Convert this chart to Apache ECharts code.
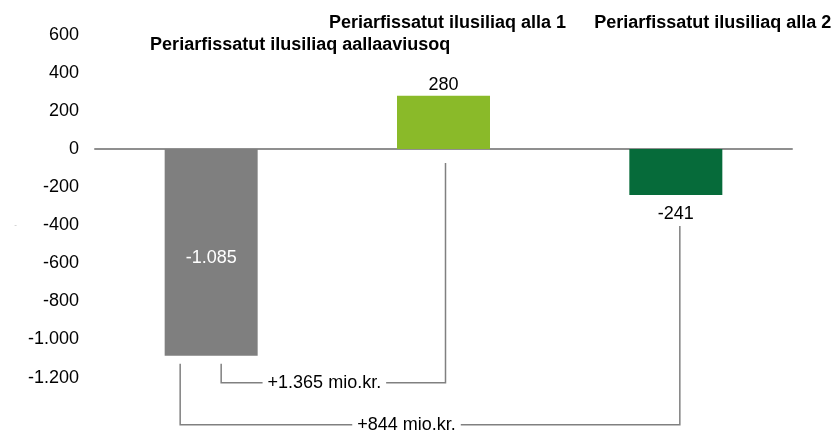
<!DOCTYPE html>
<html>
<head>
<meta charset="utf-8">
<script src="https://cdn.jsdelivr.net/npm/echarts@6/dist/echarts.min.js"></script>
<style>
  html, body { margin: 0; padding: 0; background: #fff; }
  #main { width: 835px; height: 436px; }
</style>
</head>
<body>
<div id="main"></div>
<script>
// kategorier og værdier (mio.kr.)
var categories = ['Periarfissatut ilusiliaq aallaaviusoq', 'Periarfissatut ilusiliaq alla 1', 'Periarfissatut ilusiliaq alla 2'];
var values = [-1085, 280, -241];
var barColors = ['#7f7f7f', '#8aba29', '#066b3a'];
var yTicks = [600, 400, 200, 0, -200, -400, -600, -800, -1000, -1200];

// forskel-klammer: fra kategori -> til kategori
var bracketFrom = [0, 0];
var bracketTo = [1, 2];
var bracketLabels = ['+1.365 mio.kr.', '+844 mio.kr.'];

var FONT = "'Liberation Sans', Arial, sans-serif";

// tusindtalsseparator med punktum
function fmt(v) {
    var s = Math.abs(v).toString().replace(/\B(?=(\d{3})+(?!\d))/g, '.');
    return (v < 0 ? '-' : '') + s;
}

var myChart = echarts.init(document.getElementById('main'));

// label pr. søjle
var barLabels = [
    { position: 'inside', color: '#fff', offset: [0, 6] },
    { position: 'top', distance: 2, color: '#000' },
    { position: 'bottom', distance: 10, color: '#000' }
];

// kategori-tekster øverst
var topLabelStyle = [
    { padding: [0, 0, 0, 178], verticalAlign: 'top' },
    { padding: [0, 0, 0, 8], verticalAlign: 'bottom' },
    { padding: [0, 0, 0, 74], verticalAlign: 'bottom' }
];

// klamme-layout (pixels)
var bracketStyle = [
    { leftDx: 10, rightDx: 2, leftGap: 8, rightGap: 14, drop: 27, textAt: 0.46 },
    { leftDx: -31, rightDx: 4, leftGap: 8, rightGap: 31, drop: 69, textAt: 0.453 }
];

function startY(api, cat, gap) {
    var v = values[cat];
    return api.coord([cat, Math.min(v, 0)])[1] + gap;
}

var option = {
    animation: false,
    textStyle: { fontFamily: FONT },
    grid: { left: 95, right: 43, top: 34.7, bottom: 20.3, outerBoundsMode: 'none' },
    xAxis: [
        {
            type: 'category',
            data: categories,
            position: 'bottom',
            axisLine: { onZero: true, lineStyle: { color: '#8f8f8f', width: 2 } },
            axisTick: { show: false },
            axisLabel: { show: false },
            splitLine: { show: false }
        },
        {
            type: 'category',
            position: 'top',
            data: categories.map(function (c, i) {
                return { value: c, textStyle: topLabelStyle[i] };
            }),
            axisLine: { show: false },
            axisTick: { show: false },
            splitLine: { show: false },
            axisLabel: {
                interval: 0,
                margin: 1,
                fontSize: 18,
                lineHeight: 22,
                fontWeight: 'bold',
                color: '#000',
                fontFamily: FONT
            }
        }
    ],
    yAxis: {
        type: 'value',
        min: -1400,
        max: 600,
        interval: 200,
        name: '-',
        nameLocation: 'middle',
        nameGap: 78,
        nameRotate: 0,
        nameTextStyle: { fontSize: 8, color: '#bbb', padding: [50, 0, 0, 0] },
        axisLine: { show: false },
        axisTick: { show: false },
        splitLine: { show: false },
        axisLabel: {
            margin: 16,
            fontSize: 18,
            color: '#000',
            fontFamily: FONT,
            formatter: function (v) {
                return yTicks.indexOf(v) >= 0 ? fmt(v) : '';
            }
        }
    },
    series: [
        {
            type: 'bar',
            xAxisIndex: 0,
            barWidth: 93,
            data: values.map(function (v, i) {
                return { value: v, itemStyle: { color: barColors[i] }, label: barLabels[i] };
            }),
            label: {
                show: true,
                fontSize: 18,
                fontFamily: FONT,
                formatter: function (p) { return fmt(p.value); }
            }
        },
        {
            type: 'custom',
            xAxisIndex: 0,
            clip: false,
            silent: true,
            z: 3,
            encode: { x: [0, 1], y: 2 },
            data: bracketFrom.map(function (f, i) { return [f, bracketTo[i], 0]; }),
            renderItem: function (params, api) {
                var i = params.dataIndex;
                var st = bracketStyle[i];
                var from = api.value(0), to = api.value(1);
                var x1 = api.coord([from, 0])[0] + st.leftDx;
                var x2 = api.coord([to, 0])[0] + st.rightDx;
                var lowest = Math.min.apply(null, values);
                var yLevel = api.coord([0, lowest])[1] + st.drop;
                var y1 = startY(api, from, st.leftGap);
                var y2 = startY(api, to, st.rightGap);
                var lineStyle = { stroke: '#808080', lineWidth: 1.5, fill: null };
                return {
                    type: 'group',
                    children: [
                        {
                            type: 'polyline',
                            shape: { points: [[x1, y1], [x1, yLevel], [x2, yLevel], [x2, y2]] },
                            style: lineStyle
                        },
                        {
                            type: 'text',
                            style: {
                                text: bracketLabels[i],
                                x: x1 + (x2 - x1) * st.textAt,
                                y: yLevel,
                                align: 'center',
                                verticalAlign: 'middle',
                                fontSize: 18,
                                fontFamily: FONT,
                                fill: '#000',
                                backgroundColor: '#fff',
                                padding: [0, 5]
                            }
                        }
                    ]
                };
            }
        }
    ]
};

myChart.setOption(option);
</script>
</body>
</html>
